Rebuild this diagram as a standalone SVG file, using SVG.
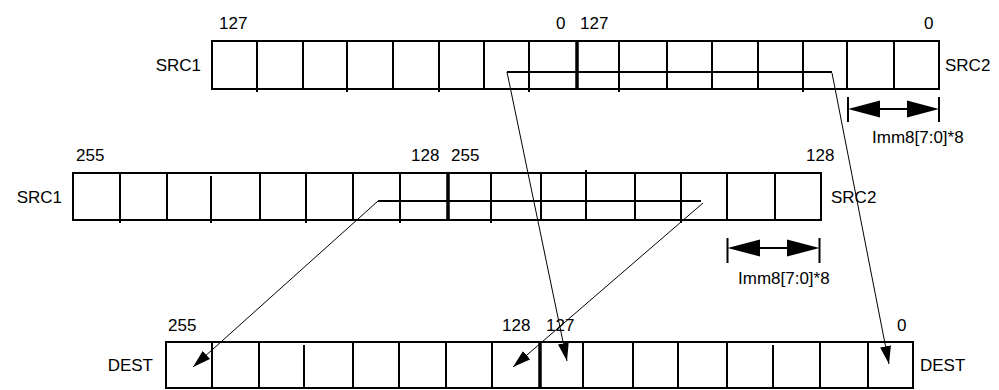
<svg xmlns="http://www.w3.org/2000/svg" width="999" height="390" viewBox="0 0 999 390">
<style>
.box{fill:none;stroke:#000;stroke-width:2}
.div{stroke:#000;stroke-width:2}
.thick{stroke:#000;stroke-width:3.5}
.lane{stroke:#000;stroke-width:2;fill:none}
.conn{stroke:#000;stroke-width:1;fill:none}
.t{font-family:"Liberation Sans",Arial,sans-serif;font-size:17px;fill:#000}
.head{fill:#000}
</style>
<defs>
<marker id="ah" markerUnits="userSpaceOnUse" markerWidth="20" markerHeight="12" refX="18" refY="6" orient="auto">
<path d="M0,0.5 L18,6 L0,11.5 Z" fill="#000"/>
</marker>
</defs>
<rect width="999" height="390" fill="#fff"/>

<g id="src-top">
<rect class="box" x="212" y="41" width="727" height="48"/>
<path class="div" d="M257,41V92 M303,41V89 M347,41V92 M393,41V89 M439,41V92 M484,41V89 M529,41V92 M619,41V92 M667,41V89 M712,41V89 M758,41V89 M803,41V92 M847,41V89 M894,41V89"/>
<line class="thick" x1="577" y1="41" x2="577" y2="89"/>
<line class="lane" x1="507" y1="72" x2="832" y2="72"/>
<text class="t" x="219" y="29">127</text>
<text class="t" x="556" y="29">0</text>
<text class="t" x="580" y="29">127</text>
<text class="t" x="924" y="29">0</text>
<text class="t" x="201" y="71" text-anchor="end">SRC1</text>
<text class="t" x="945" y="71">SRC2</text>
</g>

<g id="imm-top">
<path class="div" d="M848,97V122 M939,97V122 M878,109H909"/>
<path class="head" d="M848,109 L880,100.5 L880,117.5 Z M939,109 L907,100.5 L907,117.5 Z"/>
<text class="t" x="872" y="143">Imm8[7:0]*8</text>
</g>

<g id="src-mid">
<rect class="box" x="73" y="173" width="748" height="47"/>
<path class="div" d="M120,173V223 M167,173V220 M211,176V223 M260,173V220 M306,173V223 M353,173V220 M400,173V223 M491,173V223 M541,173V220 M586,170V220 M635,173V220 M681,173V223 M727,173V220 M775,173V220"/>
<line class="thick" x1="448" y1="173" x2="448" y2="220"/>
<line class="lane" x1="378" y1="201" x2="701" y2="201"/>
<text class="t" x="76" y="161">255</text>
<text class="t" x="411" y="161">128</text>
<text class="t" x="451" y="161">255</text>
<text class="t" x="806" y="161">128</text>
<text class="t" x="62" y="203" text-anchor="end">SRC1</text>
<text class="t" x="831" y="203">SRC2</text>
</g>

<g id="imm-mid">
<path class="div" d="M727.5,238V263 M819.5,238V263 M758,248H789"/>
<path class="head" d="M727.5,248 L760,239.5 L760,256.5 Z M819.5,248 L787,239.5 L787,256.5 Z"/>
<text class="t" x="738" y="284">Imm8[7:0]*8</text>
</g>

<g id="dest">
<rect class="box" x="166" y="342" width="747" height="46"/>
<path class="div" d="M212,342V388 M259,342V388 M304,345V388 M353,342V388 M399,342V388 M446,342V388 M492,342V388 M583,342V388 M633,342V388 M678,342V388 M727,342V388 M773,345V388 M820,342V388 M868,342V388"/>
<line class="thick" x1="540" y1="342" x2="540" y2="388"/>
<text class="t" x="168" y="331">255</text>
<text class="t" x="502" y="331">128</text>
<text class="t" x="546" y="331">127</text>
<text class="t" x="897" y="331">0</text>
<text class="t" x="153" y="371" text-anchor="end">DEST</text>
<text class="t" x="920" y="371">DEST</text>
</g>

<g id="connectors">
<line class="conn" x1="507" y1="72" x2="567" y2="361" marker-end="url(#ah)"/>
<line class="conn" x1="832" y1="73" x2="889" y2="364" marker-end="url(#ah)"/>
<line class="conn" x1="378" y1="201" x2="193" y2="367" marker-end="url(#ah)"/>
<line class="conn" x1="703" y1="203" x2="513" y2="367" marker-end="url(#ah)"/>
</g>
</svg>
